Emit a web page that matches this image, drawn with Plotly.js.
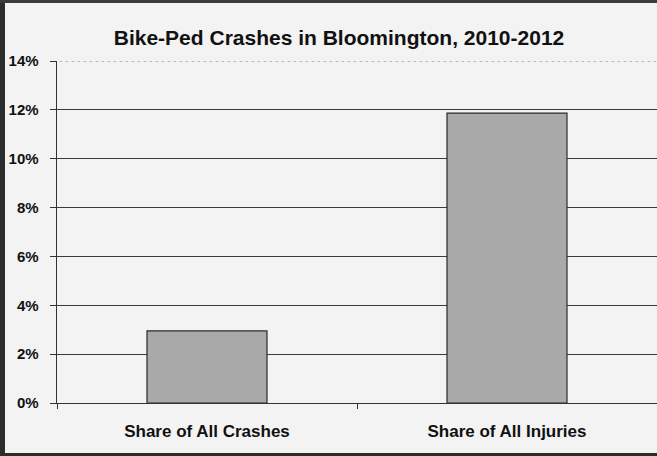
<!DOCTYPE html>
<html>
<head>
<meta charset="utf-8">
<script src="https://cdn.plot.ly/plotly-3.0.1.min.js"></script>
<style>
html,body{margin:0;padding:0;background:#f3f3f3;}
#chart{width:657px;height:456px;}
</style>
</head>
<body>
<div id="chart"></div>
<script>
const categories = ["Share of All Crashes", "Share of All Injuries"];
const shares = [0.0295, 0.1187];
const yTickValues = [0, 0.02, 0.04, 0.06, 0.08, 0.10, 0.12, 0.14];
const yTickLabels = ["0%", "2%", "4%", "6%", "8%", "10%", "12%", "14%"];

const W = 657, H = 456, ML = 57, MR = 0, MT = 61, MB = 53;
const pw = W - ML - MR, ph = H - MT - MB;
const FONT = "Liberation Sans, Arial, sans-serif";

const trace = {
  type: "bar",
  x: categories,
  y: shares,
  width: 0.4,
  marker: {color: "#a9a9a9", line: {color: "#2a2a2a", width: 1.2}},
  hoverinfo: "skip"
};

const layout = {
  width: W, height: H,
  margin: {l: ML, r: MR, t: MT, b: MB, pad: 0},
  paper_bgcolor: "#f3f3f3",
  plot_bgcolor: "#f3f3f3",
  showlegend: false,
  title: {
    text: "Bike-Ped Crashes in Bloomington, 2010-2012",
    font: {family: FONT, size: 21, color: "#111", weight: "bold"},
    x: 0.516, xanchor: "center", y: 1 - 38/H, yanchor: "middle"
  },
  xaxis: {
    type: "category",
    range: [-0.5, 1.5],
    tickson: "boundaries",
    ticks: "outside", ticklen: 5, tickcolor: "#333", tickwidth: 1,
    showgrid: false,
    showline: true, linecolor: "#333", linewidth: 1.2,
    tickfont: {family: FONT, size: 17, color: "#111", weight: "bold"},
    ticklabelstandoff: 12,
    fixedrange: true
  },
  yaxis: {
    range: [0, 0.14],
    tickvals: yTickValues,
    ticktext: yTickLabels,
    ticks: "outside", ticklen: 6, tickcolor: "#333", tickwidth: 1,
    showgrid: true, gridcolor: "#3a3a3a", gridwidth: 1,
    zeroline: false,
    showline: true, linecolor: "#333", linewidth: 1.4,
    tickfont: {family: FONT, size: 15, color: "#111", weight: "bold"},
    ticklabelstandoff: 8,
    fixedrange: true
  },
  shapes: [
    {type: "line", xref: "paper", yref: "y", x0: 0.004, x1: 1, y0: 0.14, y1: 0.14, line: {color: "#f3f3f3", width: 3}},
    {type: "line", xref: "paper", yref: "y", x0: 0.004, x1: 1, y0: 0.14, y1: 0.14, line: {color: "#888", width: 1, dash: "dot"}},
    {type: "rect", xref: "paper", yref: "paper", x0: -ML/pw, x1: -(ML-5)/pw, y0: -MB/ph, y1: 1 + MT/ph, fillcolor: "#2c2c2c", line: {width: 0}},
    {type: "rect", xref: "paper", yref: "paper", x0: -ML/pw, x1: 1, y0: 1 + (MT-3)/ph, y1: 1 + MT/ph, fillcolor: "#3c3c3c", line: {width: 0}},
    {type: "rect", xref: "paper", yref: "paper", x0: -ML/pw, x1: 1, y0: -MB/ph, y1: -(MB-3)/ph, fillcolor: "#2c2c2c", line: {width: 0}}
  ]
};

Plotly.newPlot("chart", [trace], layout, {displayModeBar: false, staticPlot: true});
</script>
</body>
</html>
